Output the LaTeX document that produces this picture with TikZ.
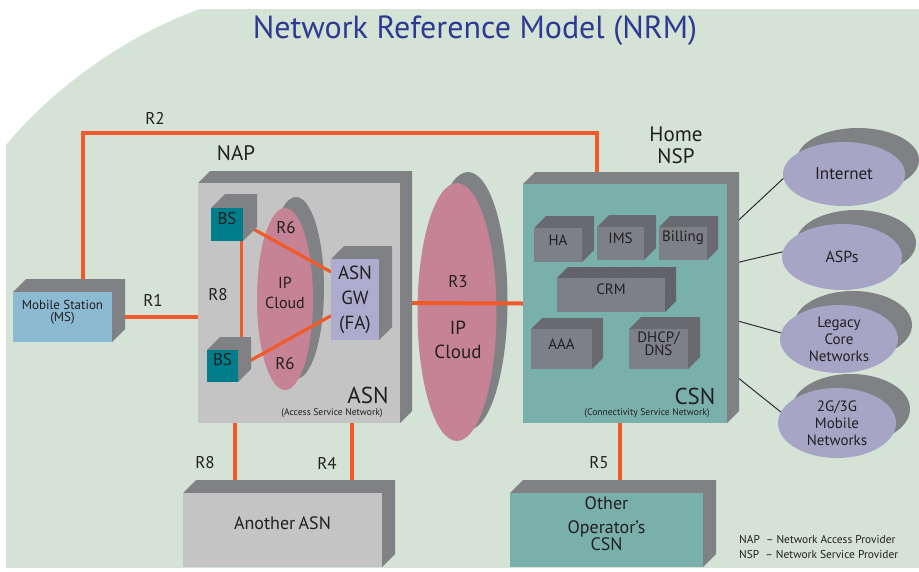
\documentclass[tikz,border=0pt]{standalone}
\usepackage{fontspec}
\setmainfont{PT Sans}
\usetikzlibrary{fit,shapes.geometric,patterns,calc}

\definecolor{bggreen}{RGB}{212,227,214}
\definecolor{titleblue}{RGB}{46,58,146}
\definecolor{rorange}{RGB}{240,90,40}
\definecolor{ink}{RGB}{35,31,32}
\definecolor{asngray}{RGB}{196,196,196}
\definecolor{depthgray}{RGB}{128,129,133}
\definecolor{bsteal}{RGB}{0,125,138}
\definecolor{cloudpink}{RGB}{198,131,150}
\definecolor{gwlav}{RGB}{173,171,206}
\definecolor{csnteal}{RGB}{122,176,172}
\definecolor{srvgray}{RGB}{126,128,135}
\definecolor{srvdepth}{RGB}{104,106,112}
\definecolor{msblue}{RGB}{140,186,210}
\definecolor{extlav}{RGB}{167,165,198}
\definecolor{linkgray}{RGB}{45,45,45}

\pgfdeclarelayer{bglayer}
\pgfdeclarelayer{wires}
\pgfdeclarelayer{cloudlayer}
\pgfdeclarelayer{trunk}
\pgfdeclarelayer{toplayer}
\pgfsetlayers{bglayer,wires,cloudlayer,trunk,main,toplayer}

% extruded box: name, front face x1 y1 x2 y2, depth, front fill, depth fill, text
\newcommand{\solid}[9]{%
  \fill[#8] (#2,#3) -- (#2+#6,#3-#6) -- (#4+#6,#3-#6) -- (#4+#6,#5-#6) -- (#4,#5) -- (#4,#3) -- cycle;
  \node[fit={(#2,#3) (#4,#5)}, inner sep=0pt, outer sep=0pt, fill=#7, text=ink, align=center] (#1) {#9};
}
% ellipse with a shadow behind it: name, cx, cy, rx, ry, shift, fill
\newcommand{\disc}[7]{%
  \fill[depthgray] (#2+#6,#3-#6) ellipse [x radius=#4, y radius=#5];
  \node[ellipse, fill=#7, minimum width=2*#4pt, minimum height=2*#5pt, inner sep=0pt, outer sep=0pt] (#1) at (#2,#3) {};
}

\tikzset{
  rline/.style={draw=rorange, line width=4pt},
  rlinein/.style={draw=rorange, line width=3.2pt},
  link/.style={draw=linkgray, line width=1pt},
  lbl/.style={text=ink, inner sep=0pt, font=\fontsize{17}{19}\selectfont},
  big/.style={text=ink, inner sep=0pt, font=\fontsize{21}{22}\selectfont, align=center},
  huge/.style={text=ink, inner sep=0pt, font=\fontsize{23}{24}\selectfont},
  tiny/.style={text=ink, inner sep=0pt, font=\fontsize{9.6}{10}\selectfont},
  extlbl/.style={text=ink, inner sep=0pt, align=center, font=\fontsize{15}{17}\selectfont},
  legend/.style={text=ink, inner sep=0pt, anchor=west, font=\fontsize{11.4}{12}\selectfont},
}

\begin{document}
\begin{tikzpicture}[x=1pt,y=-1pt]
\useasboundingbox (0,0) rectangle (919,571);

% backdrop
\begin{pgfonlayer}{bglayer}
  \fill[bggreen] (6,145) .. controls (50,92) and (120,38) .. (200,9) -- (919,9) -- (919,568) -- (6,568) -- cycle;
\end{pgfonlayer}

\node[text=titleblue, inner sep=0pt, font=\fontsize{32}{34}\selectfont] (title) at (475,31) {Network Reference Model (NRM)};

% ---- terminals and networks ----
\solid{MS}{13}{292}{112}{342}{13}{msblue}{depthgray}{\fontsize{13}{18}\selectfont Mobile Station\\(MS)}
\solid{ASN}{198}{183}{400}{423}{12}{asngray}{depthgray}{}

% inner IP cloud of the ASN
\disc{ipin}{285}{299}{28}{91}{11}{cloudpink}

\begin{pgfonlayer}{toplayer}
  \solid{BS1}{211}{208}{243}{241}{14}{bsteal}{depthgray}{\fontsize{17}{19}\selectfont BS}
  \solid{BS2}{207}{350}{238}{382}{13}{bsteal}{depthgray}{\fontsize{17}{19}\selectfont BS}
  \solid{GW}{331}{259}{379}{340}{13}{gwlav}{depthgray}{}
  \node[text=ink, inner sep=0pt, align=center, font=\fontsize{19}{25}\selectfont] (gwt) at (GW.center) {ASN\\GW\\(FA)};
\end{pgfonlayer}

% links inside the ASN
\draw[rlinein] ([yshift=10pt]BS1.center) -- ($(GW.north west)!0.16!(GW.south west)$);
\draw[rlinein] ([yshift=-10pt]BS2.center) -- ($(GW.north west)!0.70!(GW.south west)$);
\draw[rlinein] ([xshift=-1.5pt]BS1.south east) -- ([xshift=-1.5pt]BS1.south east |- BS2.north);

\node[lbl] (r6a) at (286,228) {R6};
\node[lbl] (r6b) at (285,364) {R6};
\node[lbl, align=center, font=\fontsize{16}{20}\selectfont] (ipinlbl) at (285,293) {IP\\Cloud};
\node[lbl] (r8a) at (218,295) {R8};
\node[huge] (asnlbl) at (368,395) {ASN};
\node[tiny] (asnsub) at (332,413) {(Access Service Network)};

% core IP cloud
\begin{pgfonlayer}{cloudlayer}
  \disc{ipcore}{457}{312}{39.5}{129}{11}{cloudpink}
\end{pgfonlayer}

% CSN and its servers
\solid{CSN}{523}{184}{727}{423}{12}{csnteal}{depthgray}{}
\solid{HA}{534}{228}{582}{262}{12}{srvgray}{srvdepth}{\fontsize{15}{16}\selectfont HA}
\solid{IMS}{597}{227}{644}{260}{12}{srvgray}{srvdepth}{\fontsize{15}{16}\selectfont IMS}
\solid{BILL}{659}{227}{707}{260}{11}{srvgray}{srvdepth}{\fontsize{15}{16}\selectfont Billing}
\solid{CRM}{557}{278}{665}{312}{11}{srvgray}{srvdepth}{\fontsize{15}{16}\selectfont CRM}
\fill[pattern=north east lines, pattern color=srvdepth!82!black]
  (557,278) -- (568,267) -- (676,267) -- (676,301) -- (665,312) -- (665,278) -- cycle;
\solid{AAA}{531}{329}{592}{369}{11}{srvgray}{srvdepth}{\fontsize{15}{16}\selectfont AAA}
\solid{DHCP}{629}{329}{688}{369}{12}{srvgray}{srvdepth}{\fontsize{15}{16}\selectfont DHCP/\\DNS}
\node[huge] (csnlbl) at (695,396) {CSN};
\node[tiny] (csnsub) at (647,413) {(Connectivity Service Network)};

% neighbouring networks below
\solid{AASN}{183}{493}{382}{567}{13}{asngray}{depthgray}{\fontsize{18}{20}\selectfont Another ASN}
\solid{OCSN}{510}{493}{703}{567}{13}{csnteal}{depthgray}{\fontsize{18}{24}\selectfont Other\\Operator's\\CSN}

% external networks
\disc{inet}{844}{174}{61}{32}{14}{extlav}
\disc{asps}{842}{257}{60}{33}{14}{extlav}
\disc{legacy}{839}{339}{59}{34}{14}{extlav}
\disc{mobile}{837}{423}{59}{35}{14}{extlav}
\node[extlbl, font=\fontsize{17}{19}\selectfont] (inett) at (inet.center) {Internet};
\node[extlbl, font=\fontsize{16}{18}\selectfont] (aspst) at (asps.center) {ASPs};
\node[extlbl] (legacyt) at (legacy.center) {Legacy\\Core\\Networks};
\node[extlbl] (mobilet) at (mobile.center) {2G/3G\\Mobile\\Networks};

% reference points between the blocks
\begin{pgfonlayer}{wires}
  \draw[rline] ([xshift=20.5pt]MS.north) |- ([xshift=-28pt,yshift=51pt]CSN.north) -- ([xshift=-28pt]CSN.north);
  \draw[rline] (MS.east) -- (MS.east -| ASN.west);
  \draw[rline] ([xshift=-64pt]ASN.south) -- ([xshift=-64pt]ASN.south |- AASN.north);
  \draw[rline] ([xshift=53pt]ASN.south) -- ([xshift=53pt]ASN.south |- AASN.north);
  \draw[rline] ([xshift=-5pt]CSN.south) -- ([xshift=-5pt]CSN.south |- OCSN.north);
  \draw[link] ([yshift=72.5pt]CSN.east) -- (inet.184);
  \draw[link] ([yshift=38.5pt]CSN.east) -- (asps.175);
  \draw[link] ([yshift=-14.5pt]CSN.east) -- (legacy.174);
  \draw[link] ([yshift=-65.5pt]CSN.east) -- (mobile.169);
\end{pgfonlayer}
\begin{pgfonlayer}{trunk}
  \draw[rline] (ASN.east) -- (CSN.west);
\end{pgfonlayer}

\node[lbl] (r2) at (155,118) {R2};
\node[lbl] (r1) at (153,300) {R1};
\node[lbl] (r3) at (458,282) {R3};
\node[lbl, align=center, font=\fontsize{19}{24}\selectfont] (ipcoret) at (458,340) {IP\\Cloud};
\node[lbl] (r8b) at (205,463) {R8};
\node[lbl] (r4) at (327,463) {R4};
\node[lbl] (r5) at (599,463) {R5};
\node[big] (nap) at (236,153) {NAP};
\node[big] (nsp) at (676,145) {Home\\NSP};

% legend
\node[legend] (leg1) at (739,540) {NAP~~– Network Access Provider};
\node[legend] (leg2) at (739,555) {NSP~~– Network Service Provider};
\end{tikzpicture}
\end{document}
